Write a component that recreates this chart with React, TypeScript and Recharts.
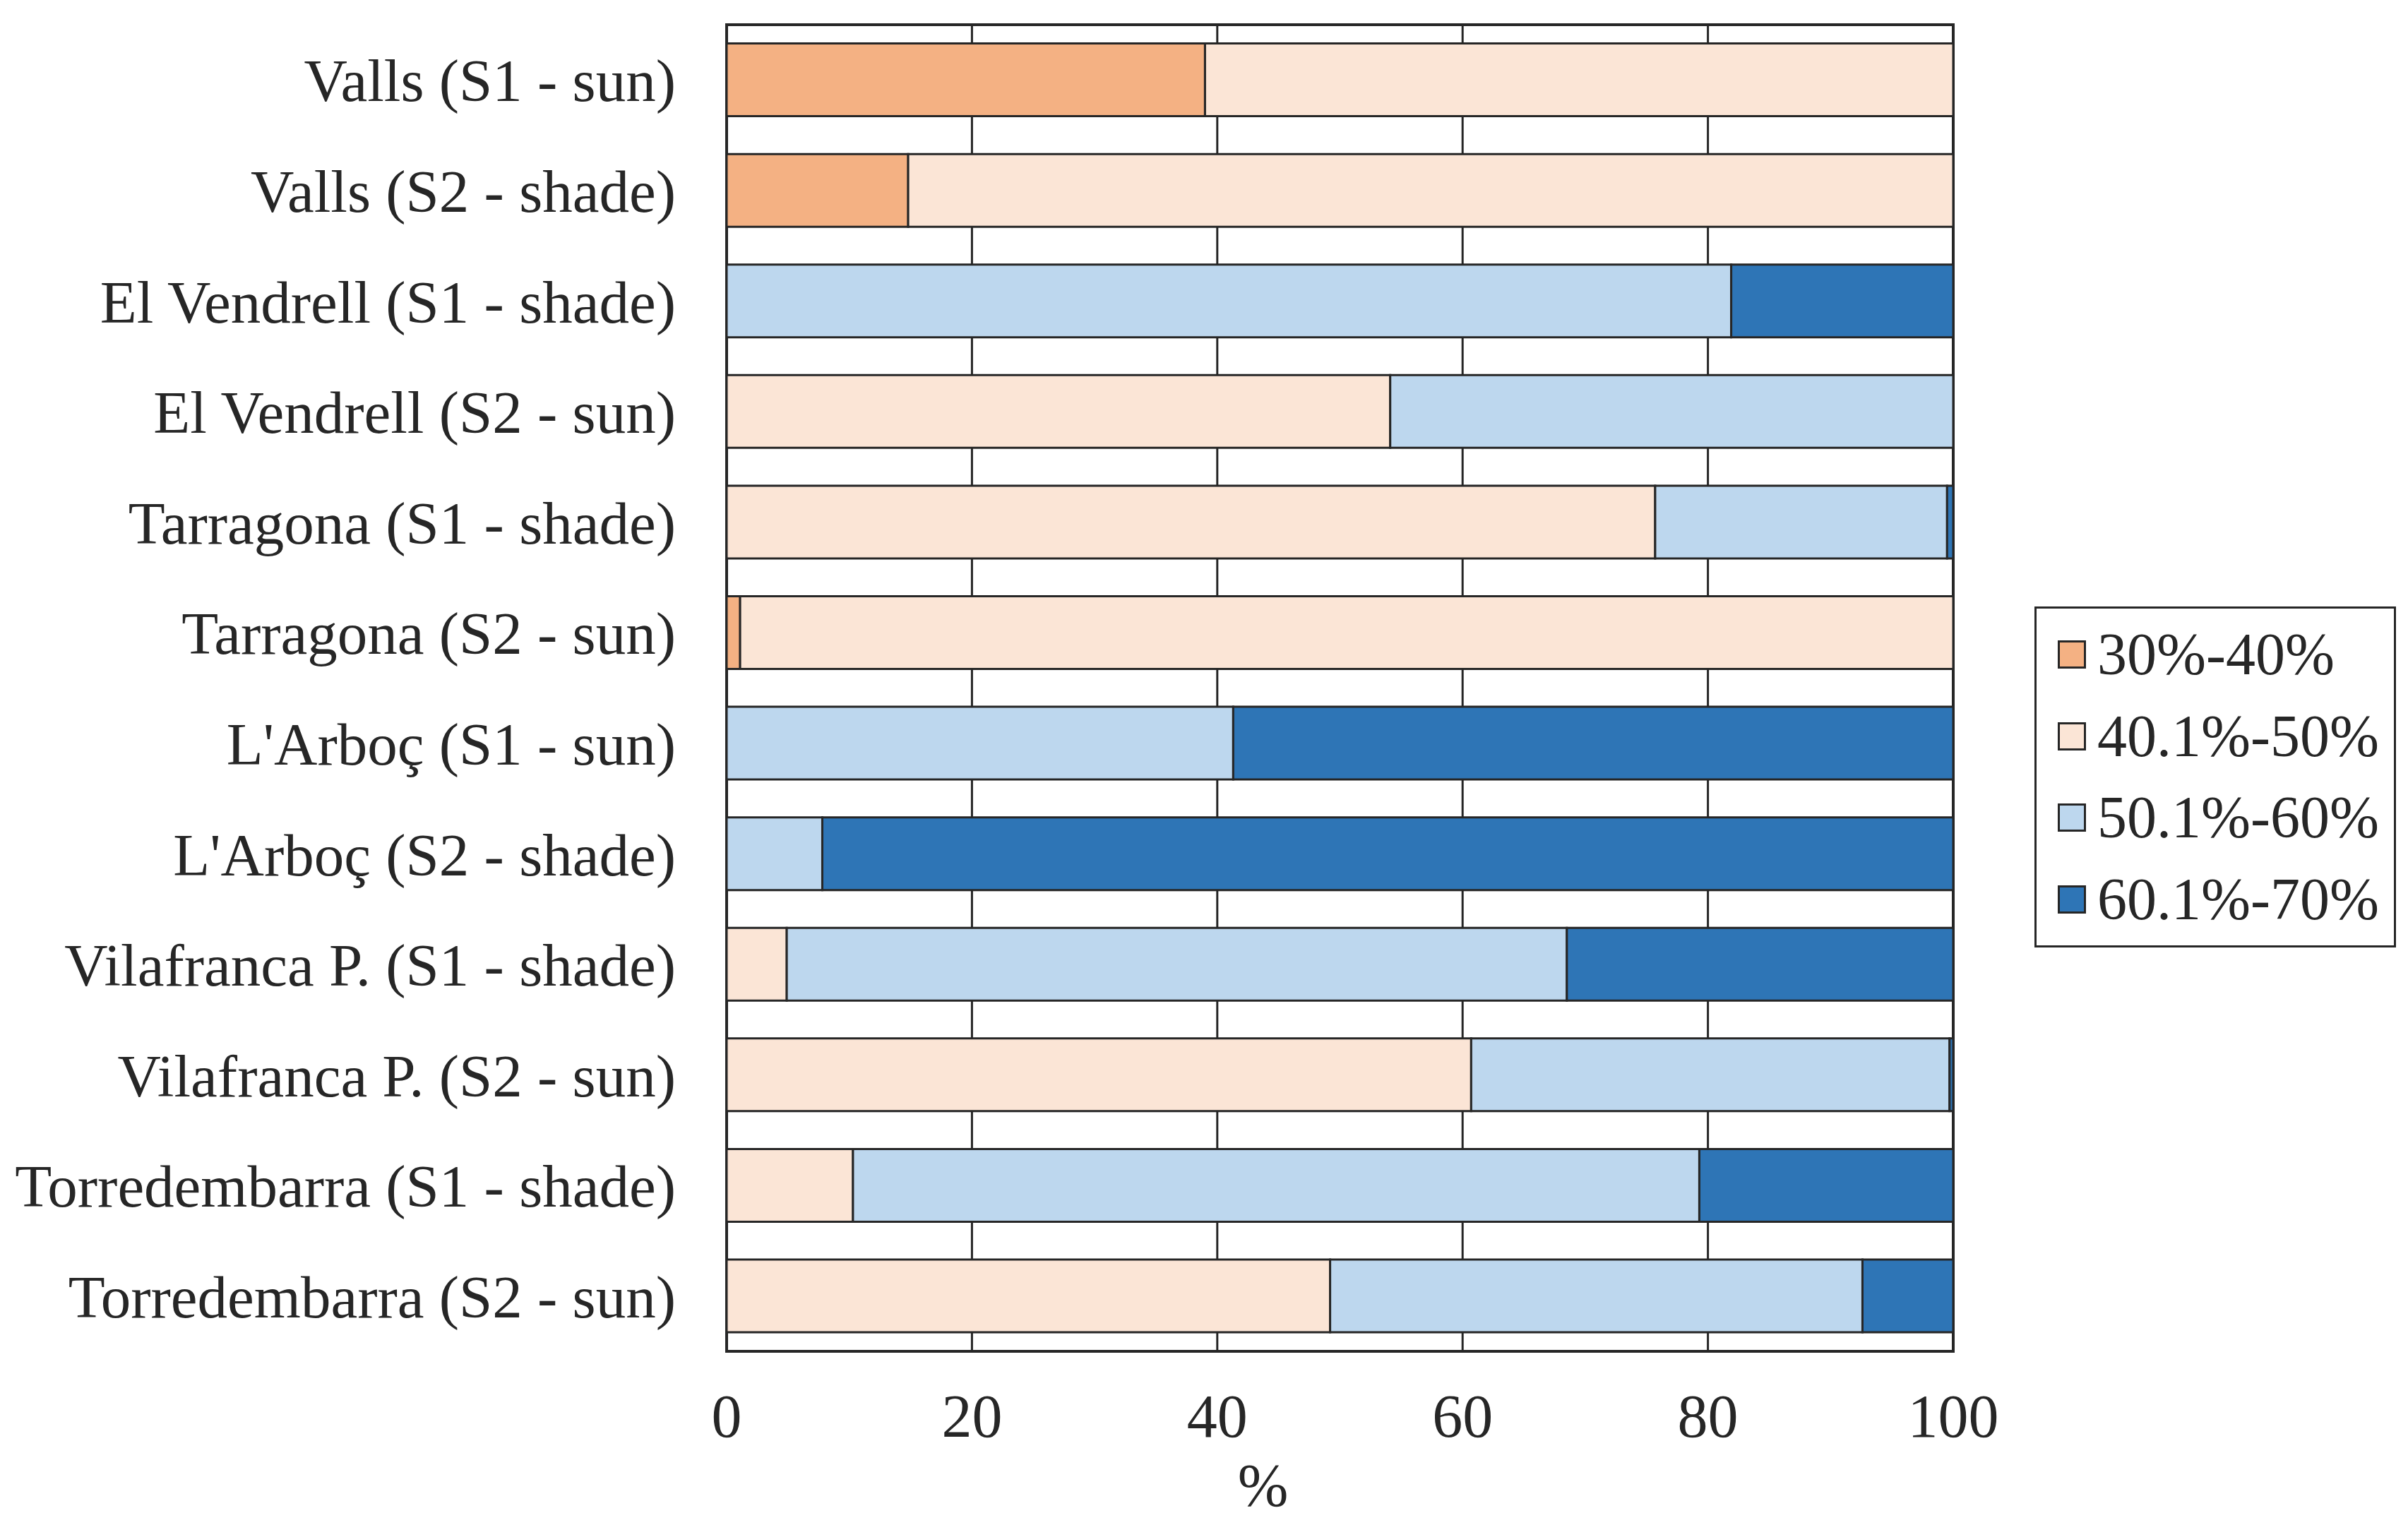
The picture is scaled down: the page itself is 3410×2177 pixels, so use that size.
import React from 'react';
import {
    BarChart,
    Bar,
    XAxis,
    YAxis,
    CartesianGrid,
    Legend,
    ReferenceArea,
    Label,
} from 'recharts';

// Sites (top to bottom)
const sites = [
    'Valls (S1 - sun)',
    'Valls (S2 - shade)',
    'El Vendrell (S1 - shade)',
    'El Vendrell (S2 - sun)',
    'Tarragona (S1 - shade)',
    'Tarragona (S2 - sun)',
    "L'Arboç (S1 - sun)",
    "L'Arboç (S2 - shade)",
    'Vilafranca P. (S1 - shade)',
    'Vilafranca P. (S2 - sun)',
    'Torredembarra (S1 - shade)',
    'Torredembarra (S2 - sun)',
];

// share of time (%) in each humidity range
const range30to40 = [39.0, 14.8, 0, 0, 0, 1.1, 0, 0, 0, 0, 0, 0];
const range40to50 = [61.0, 85.2, 0, 54.1, 75.7, 98.9, 0, 0, 4.9, 60.7, 10.3, 49.2];
const range50to60 = [0, 0, 81.9, 45.9, 23.8, 0, 41.3, 7.8, 63.6, 39.0, 69.0, 43.4];
const range60to70 = [0, 0, 18.1, 0, 0.5, 0, 58.7, 92.2, 31.5, 0.3, 20.7, 7.4];

const xTicks = [0, 20, 40, 60, 80, 100];

const series = [
    { key: 'r1', name: '30%-40%', color: '#F4B183' },
    { key: 'r2', name: '40.1%-50%', color: '#FBE5D6' },
    { key: 'r3', name: '50.1%-60%', color: '#BDD7EE' },
    { key: 'r4', name: '60.1%-70%', color: '#2E75B6' },
];

const data = sites.map((name, i) => ({
    name,
    r1: range30to40[i],
    r2: range40to50[i],
    r3: range50to60[i],
    r4: range60to70[i],
}));

const FONT = '"Liberation Serif", "Times New Roman", serif';
const INK = '#262626';

function LegendBox() {
    return (
        <div
            style={{
                width: 512,
                height: 483,
                boxSizing: 'border-box',
                border: `3px solid ${INK}`,
                background: '#fff',
                display: 'flex',
                flexDirection: 'column',
                justifyContent: 'space-evenly',
                paddingLeft: 30,
                fontFamily: FONT,
                fontSize: 84,
                color: INK,
            }}
        >
            {series.map((s) => (
                <div key={s.key} style={{ display: 'flex', alignItems: 'center', height: 100 }}>
                    <span
                        style={{
                            display: 'inline-block',
                            width: 40,
                            height: 40,
                            background: s.color,
                            border: `3px solid ${INK}`,
                            boxSizing: 'border-box',
                            marginRight: 16,
                        }}
                    />
                    <span style={{ lineHeight: 1 }}>{s.name}</span>
                </div>
            ))}
        </div>
    );
}

// x-axis title sits a little left of the plot centre in the original
function PercentLabel(props: any) {
    const { viewBox } = props;
    const x = viewBox.x + viewBox.width / 2 - 109;
    const y = viewBox.y + viewBox.height - 44;
    return (
        <text x={x} y={y} textAnchor="middle" fontFamily={FONT} fontSize={86} fill={INK}>
            %
        </text>
    );
}

export default function App() {
    return (
        <BarChart
            width={3402}
            height={2169}
            data={data}
            layout="vertical"
            barCategoryGap="17%"
            margin={{ top: 27, right: 644, left: 0, bottom: 0 }}
        >
            <CartesianGrid horizontal={false} stroke={INK} strokeWidth={3} />
            <XAxis
                type="number"
                domain={[0, 100]}
                ticks={xTicks}
                height={263}
                tickSize={0}
                tickMargin={60}
                axisLine={false}
                tick={{ fontFamily: FONT, fontSize: 86, fill: INK }}
            >
                <Label content={PercentLabel} />
            </XAxis>
            <YAxis
                type="category"
                dataKey="name"
                width={1021}
                tickSize={0}
                tickMargin={72}
                axisLine={false}
                interval={0}
                tick={{ fontFamily: FONT, fontSize: 85, fill: INK }}
            />
            {series.map((s) => (
                <Bar
                    key={s.key}
                    dataKey={s.key}
                    name={s.name}
                    stackId="a"
                    fill={s.color}
                    stroke={INK}
                    strokeWidth={3}
                    isAnimationActive={false}
                />
            ))}
            <ReferenceArea x1={0} x2={100} fill="none" stroke={INK} strokeWidth={4} fillOpacity={0} />
            <Legend
                layout="vertical"
                align="center"
                verticalAlign="middle"
                content={() => <LegendBox />}
                wrapperStyle={{ left: 2873, top: 851, width: 512, height: 483 }}
            />
        </BarChart>
    );
}
